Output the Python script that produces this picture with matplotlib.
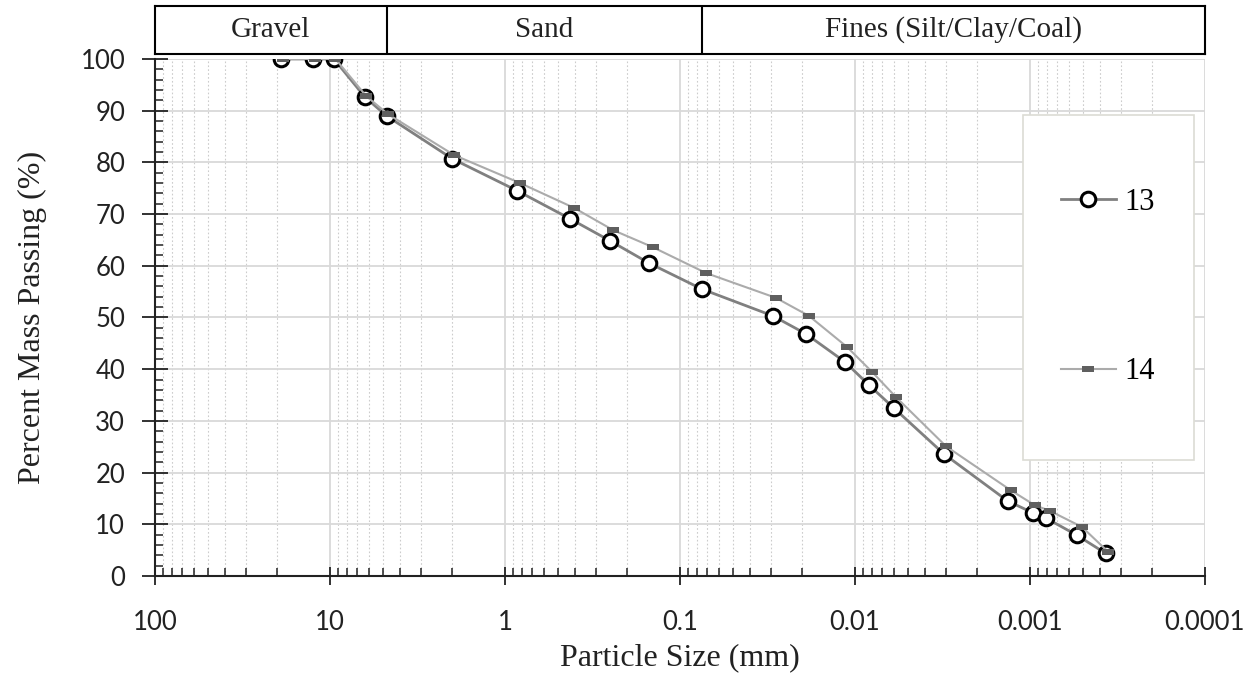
import numpy as np
import matplotlib.pyplot as plt
from matplotlib.ticker import FixedLocator, FuncFormatter, MultipleLocator, LogLocator
from matplotlib.patches import Rectangle

plt.rcParams["font.family"] = ["Lato", "DejaVu Sans"]
serif = "Liberation Serif"

# grain size distribution, sample 13 (sieve + hydrometer)
size_13 = [19, 12.5, 9.5, 6.3, 4.75, 2.0, 0.85, 0.425, 0.25, 0.15, 0.075,
           0.0294, 0.019, 0.0114, 0.0083, 0.006, 0.0031, 0.00134, 0.00096,
           0.00081, 0.00054, 0.00037]
pass_13 = [100, 100, 100, 92.6, 89.0, 80.7, 74.5, 69.1, 64.8, 60.5, 55.5,
           50.3, 46.8, 41.4, 36.9, 32.5, 23.6, 14.5, 12.2, 11.2, 7.9, 4.4]

# sample 14
size_14 = [18.5, 12.2, 9.3, 6.2, 4.65, 1.95, 0.82, 0.403, 0.241, 0.143, 0.071,
           0.0283, 0.0183, 0.0111, 0.0080, 0.00583, 0.00302, 0.00129, 0.00094,
           0.00077, 0.000505, 0.000358]
pass_14 = [100, 100, 100, 92.8, 89.3, 81.4, 76.0, 71.2, 66.9, 63.6, 58.6,
           53.8, 50.3, 44.3, 39.5, 34.6, 25.1, 16.6, 13.7, 12.6, 9.5, 4.7]

class_names = ["Gravel", "Sand", "Fines (Silt/Clay/Coal)"]
class_bounds = [100, 4.75, 0.075, 0.0001]

x_ticks = [100, 10, 1, 0.1, 0.01, 0.001, 0.0001]

fig = plt.figure(figsize=(12.57, 6.74), dpi=100)
ax = fig.add_axes([0.1233, 0.1454, 0.8353, 0.7671])
band = fig.add_axes([0.1233, 0.9199, 0.8353, 0.0712], sharex=ax)

# small horizontal bar used as the marker of sample 14
bar = [(-1, -0.45), (1, -0.45), (1, 0.45), (-1, 0.45), (-1, -0.45)]

ax.plot(size_13, pass_13, color="#808080", lw=2, marker="o", ms=10.5,
        mfc="white", mec="black", mew=2.2, zorder=3, label="13")
ax.plot(size_14, pass_14, color="#ababab", lw=1.5, marker=bar, ms=9,
        mfc="#5f5f5f", mec="#5f5f5f", mew=0, zorder=4, label="14")

ax.set_xscale("log")
ax.set_xlim(100, 0.0001)
ax.set_ylim(0, 100)
ax.xaxis.set_major_locator(FixedLocator(x_ticks))
ax.xaxis.set_major_formatter(FuncFormatter(lambda v, p: f"{v:g}"))
ax.xaxis.set_minor_locator(LogLocator(base=10, subs=range(2, 10)))
ax.yaxis.set_major_locator(MultipleLocator(10))
ax.yaxis.set_minor_locator(MultipleLocator(2))

ax.set_axisbelow(True)
ax.grid(which="major", axis="both", color="#d9d9d9", lw=1.3)
ax.grid(which="minor", axis="x", color="#cccccc", lw=0.8, ls=(0, (1.5, 2)))

for side in ["top", "right"]:
    ax.spines[side].set_visible(False)
for side in ["left", "bottom"]:
    ax.spines[side].set_linewidth(1.5)
    ax.spines[side].set_color("#222222")

ax.tick_params(axis="x", which="major", direction="inout", length=13, width=1.3,
               pad=18, labelsize=18.5, colors="#222222")
ax.tick_params(axis="x", which="minor", direction="in", length=6, width=1.1,
               colors="#222222")
ax.tick_params(axis="y", which="major", direction="inout", length=19, width=1.3,
               pad=12, labelsize=18.5, colors="#222222")
ax.tick_params(axis="y", which="minor", direction="in", length=6, width=1.1,
               colors="#222222")

ax.set_xlabel("Particle Size (mm)", fontfamily=serif, fontsize=23, labelpad=6,
              color="#222222")
ax.set_ylabel("Percent Mass Passing (%)", fontfamily=serif, fontsize=23,
              labelpad=24, color="#222222")

# legend box
ax.add_patch(Rectangle((0.8267, 0.2244), 0.1628, 0.6673, transform=ax.transAxes,
                       facecolor="white", edgecolor="#dcdcd4", lw=1.2, zorder=5))
leg = ax.legend(loc="center", bbox_to_anchor=(0.9076, 0.559), frameon=False,
                prop={"family": serif, "size": 22}, labelspacing=4.6,
                handlelength=1.8, handletextpad=0.3)
leg.set_zorder(6)

# soil class band above the plot
band.set_ylim(0, 1)
for b in class_bounds[1:-1]:
    band.axvline(b, color="black", lw=1.5)
for name, lo, hi in zip(class_names, class_bounds[:-1], class_bounds[1:]):
    band.text(np.sqrt(lo * hi), 0.5, name, ha="center", va="center",
              fontfamily=serif, fontsize=21, color="#222222")
for sp in band.spines.values():
    sp.set_linewidth(1.5)
band.tick_params(which="both", bottom=False, left=False, labelbottom=False,
                 labelleft=False)

plt.savefig("out.png", dpi=100)
